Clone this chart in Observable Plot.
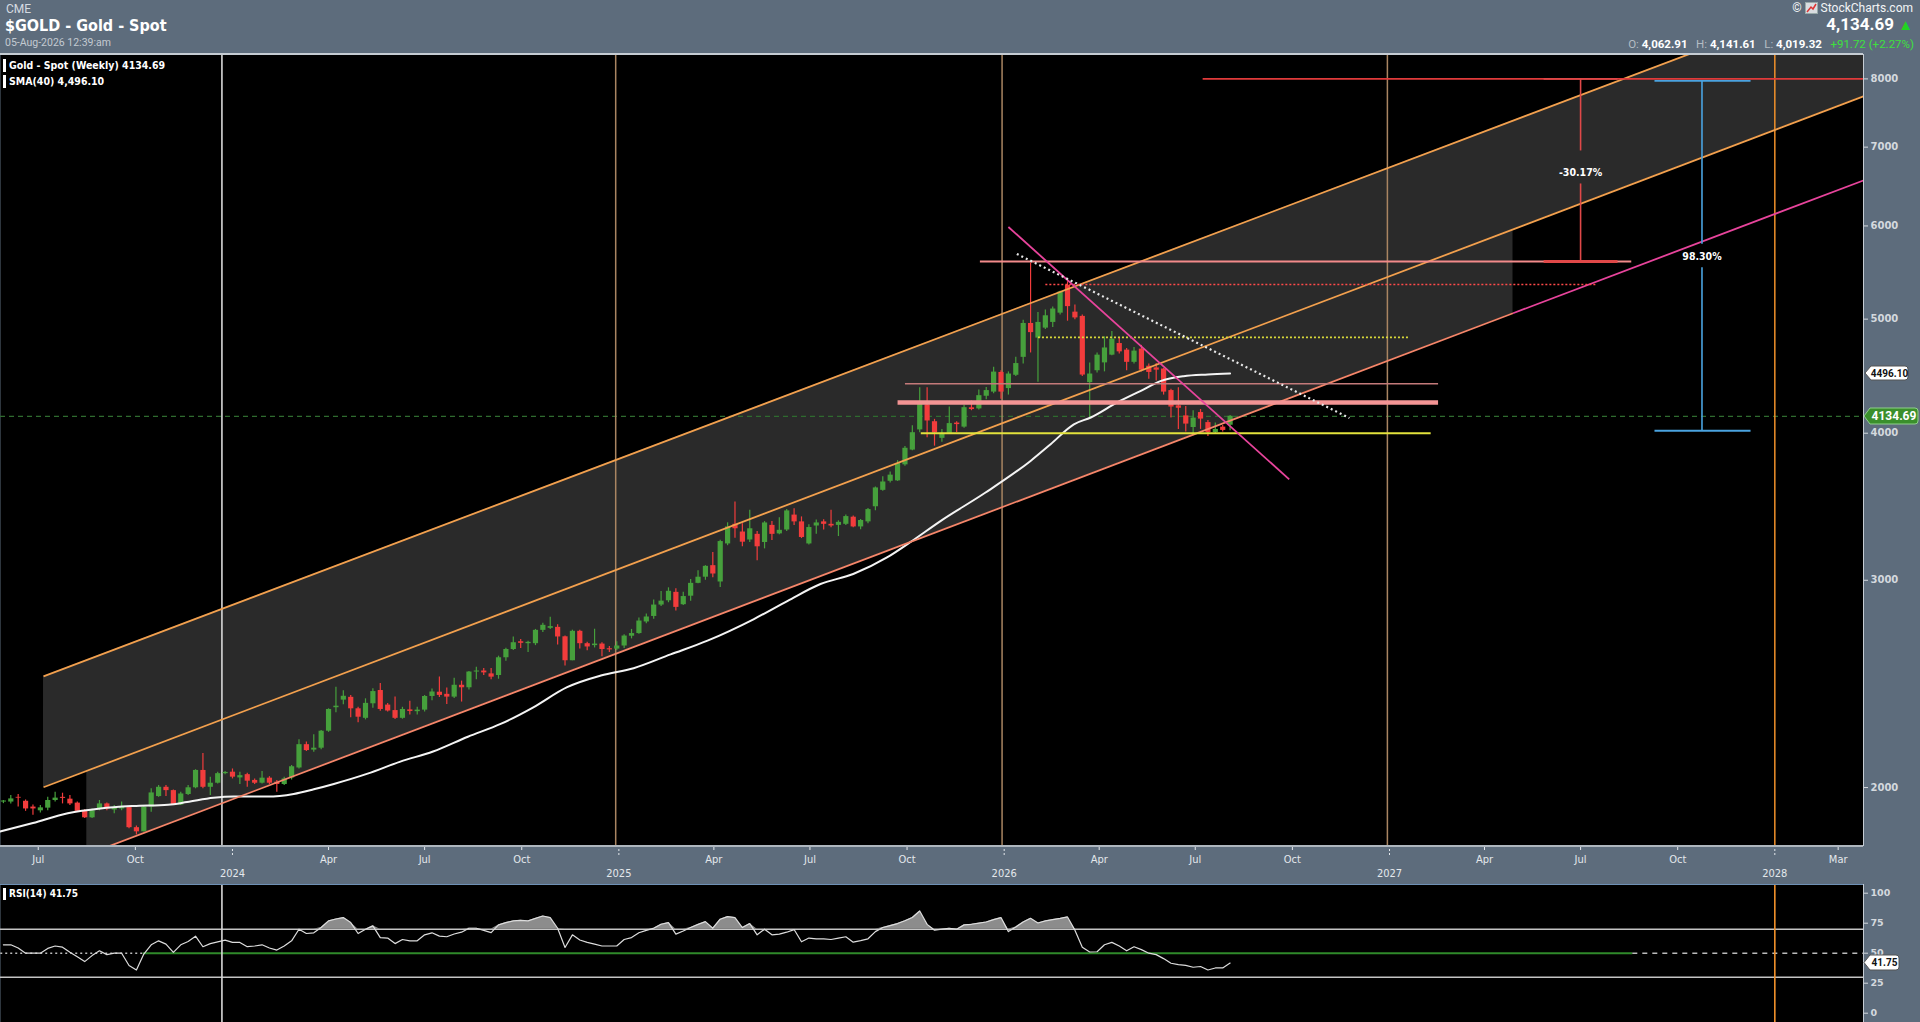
<!DOCTYPE html>
<html>
<head>
<meta charset="utf-8">
<script src="https://cdn.jsdelivr.net/npm/d3@7"></script>
<script src="https://cdn.jsdelivr.net/npm/@observablehq/plot@0.6"></script>
<style>
  html, body { margin:0; padding:0; background:#5d6c7c; }
  #root { position:relative; width:1920px; height:1022px; overflow:hidden; background:#5d6c7c; font-family: Roboto, "Noto Sans", sans-serif; }
  .abs { position:absolute; white-space:nowrap; line-height:1; }
  .narrow { font-family: "Liberation Sans Narrow", "DejaVu Sans Condensed", Roboto, sans-serif; }
</style>
</head>
<body>
<div id="root"></div>
<script>
// ================= DATA =================
const firstWeek = "2023-05-29"; // first weekly bar (week starting Monday)
const opens = [1944,1944,1962,1947,1925,1911,1921,1950,1962,1955,
 1940,1909,1885,1918,1937,1914,1918,1923,1849,1834,
 1925,1965,2001,1988,1933,1973,1999,2068,2001,2017,
 2055,2061,2038,2051,2028,2017,2037,2021,2012,2038,
 2078,2175,2152,2160,2233,2338,2373,2386,2333,2290,
 2356,2418,2350,2325,2290,2328,2320,2327,2390,2410,
 2400,2387,2443,2431,2507,2512,2498,2490,2578,2620,
 2660,2650,2650,2720,2731,2736,2686,2563,2715,2650,
 2640,2648,2624,2622,2638,2689,2703,2765,2795,2858,
 2882,2930,2860,2908,2982,3018,3087,2990,3221,3347,
 3297,3246,3282,3230,3340,3285,3310,3408,3363,3221,
 3336,3363,3347,3340,3347,3394,3330,3363,3464,3577,
 3641,3644,3760,3870,4026,4228,4091,3960,3999,4080,
 4048,4204,4195,4300,4335,4505,4365,4480,4640,4958,
 4818,4913,4968,5059,5342,5069,5027,4416,4520,4590,
 4660,4767,4706,4595,4715,4560,4545,4535,4348,4220,
 4138,4045,4165,4084,4005,4048,4062.91];
const highs = [1950,1969,1973,1952,1933,1931,1962,1982,1978,1969,
 1944,1915,1918,1950,1940,1931,1944,1925,1855,1931,
 1995,2008,2008,1990,1982,2008,2071,2138,2041,2061,
 2064,2074,2061,2057,2034,2064,2043,2028,2041,2088,
 2196,2186,2218,2236,2333,2434,2417,2395,2340,2379,
 2426,2451,2357,2387,2340,2368,2340,2395,2425,2483,
 2430,2477,2463,2510,2531,2525,2525,2586,2626,2685,
 2672,2663,2725,2758,2790,2750,2690,2721,2721,2657,
 2726,2655,2635,2660,2697,2725,2786,2808,2886,2935,
 2956,2950,2930,3004,3057,3087,3167,3245,3357,3497,
 3350,3441,3300,3365,3365,3390,3445,3451,3396,3345,
 3375,3377,3441,3370,3409,3402,3378,3453,3600,3674,
 3707,3791,3897,4059,4373,4373,4110,4030,4210,4090,
 4225,4260,4353,4375,4550,4520,4510,4640,4990,5582,
 5065,5090,5120,5280,5380,5140,5040,4590,4680,4830,
 4880,4820,4720,4730,4750,4580,4585,4540,4360,4373,
 4215,4180,4190,4100,4080,4060,4141.61];
const lows = [1938,1937,1925,1909,1894,1903,1911,1944,1937,1931,
 1906,1882,1882,1911,1911,1900,1911,1845,1823,1833,
 1906,1962,1965,1931,1931,1969,1995,1995,1969,2014,
 2051,2034,2012,2001,2012,2014,2012,1982,2008,2030,
 2074,2146,2143,2153,2228,2315,2352,2292,2270,2283,
 2335,2322,2318,2285,2286,2305,2305,2318,2370,2385,
 2353,2380,2364,2421,2470,2490,2470,2472,2560,2615,
 2625,2605,2640,2708,2725,2643,2537,2563,2622,2613,
 2628,2583,2605,2615,2625,2675,2700,2755,2780,2850,
 2871,2825,2855,2880,2980,3000,3015,2958,3210,3257,
 3203,3230,3117,3190,3242,3280,3300,3340,3255,3215,
 3283,3310,3325,3268,3340,3325,3312,3350,3437,3570,
 3628,3640,3750,3865,4004,3965,3900,3930,3995,4005,
 4040,4180,4185,4270,4320,4275,4310,4470,4580,4680,
 4420,4900,4920,5040,4980,4995,4470,4113,4500,4510,
 4655,4670,4520,4580,4510,4445,4430,4310,4120,4030,
 4010,3980,4030,3975,3990,4010,4019.32];
const closes = [1948,1956,1959,1918,1918,1922,1950,1959,1958,1937,
 1909,1885,1911,1937,1918,1923,1927,1849,1834,1925,
 1979,2001,1988,1934,1975,1999,2068,2001,2017,2055,
 2060,2041,2047,2025,2017,2037,2017,2012,2034,2083,
 2175,2150,2160,2233,2330,2345,2391,2333,2295,2358,
 2413,2330,2323,2290,2330,2321,2327,2390,2411,2395,
 2387,2443,2431,2507,2512,2503,2482,2578,2620,2655,
 2652,2657,2720,2747,2740,2685,2563,2715,2650,2633,
 2648,2620,2618,2638,2690,2703,2770,2792,2858,2880,
 2936,2845,2906,2982,3018,3083,3037,3236,3330,3318,
 3232,3318,3203,3356,3282,3308,3436,3363,3262,3326,
 3356,3347,3336,3360,3398,3330,3372,3445,3594,3636,
 3685,3770,3884,4004,4233,4097,4002,3991,4076,4068,
 4205,4190,4305,4348,4508,4335,4491,4584,4958,4870,
 4968,5033,5100,5273,5124,5012,4482,4491,4660,4726,
 4808,4690,4595,4697,4525,4505,4525,4335,4210,4200,
 4072,4120,4112,4004,4030,4022,4134.69];
const rsi14 = [57,57,54.3,50,50,50,54,56,55,50.7,
 47,43,48,52,48.8,50,50,39.7,36,49.3,
 57,60.3,57.6,50.7,57,59.8,64.2,55.4,58,59.5,
 60.9,59,59,55.4,56,57,54.3,52.6,56,60.3,
 70,66.4,67,71.4,76.9,78.5,79.7,75.5,66.4,70,
 72.8,63,62.6,58,61.4,60.3,60.3,65.3,67,64.2,
 63.7,66,67.5,70.8,70.8,69,67.2,73.6,75.5,76.9,
 77.4,76.9,79,81,79.7,70.8,54.8,65.3,61,59,
 57.6,56,56,56,61.4,63,67,69,70.8,74.1,
 75.5,65.9,68.5,71.4,74,76.3,70.8,78.3,80.5,79.7,
 71.4,74.7,65.3,70,65.3,65.9,67.5,69.7,59.5,62.6,
 62,62,61.4,62.5,63.7,59.2,60.5,62,68,71.4,
 73,74.7,77,79.7,85.2,74,69.2,70,70.8,70,
 73.6,74.1,75,76,78,79.7,68,71.9,76,79.1,
 75.2,76.9,78,79,80.2,69.2,55,51,51.2,57,
 59,56,52,55.4,53,50,48.8,45.5,41.6,40.5,
 39.9,38.3,38.9,36,37.7,37.7,41.75];
const smaDates = ["2023-05-26","2023-06-26","2023-07-29","2023-08-29","2023-09-29","2023-11-01","2023-11-19","2023-12-14","2024-01-02","2024-02-03",
 "2024-02-28","2024-03-18","2024-04-06","2024-05-08","2024-06-08","2024-07-09","2024-08-11","2024-09-11","2024-10-12","2024-11-13",
 "2024-12-15","2025-01-15","2025-02-19","2025-03-26","2025-05-09","2025-06-10","2025-07-11","2025-08-11","2025-09-12","2025-10-04",
 "2025-11-02","2025-12-14","2026-01-26","2026-02-14","2026-03-08","2026-03-24","2026-04-18","2026-05-10","2026-05-29","2026-06-20",
 "2026-07-13","2026-08-03"];
const smaValues = [1835,1866,1902,1920,1929,1934,1944,1960,1965,1965,
 1975,1993,2014,2055,2104,2146,2209,2265,2340,2434,
 2490,2526,2595,2666,2781,2882,2978,3037,3137,3232,
 3370,3560,3789,3915,4070,4125,4248,4344,4429,4472,
 4487,4496.10];

const lastClose = 4134.69, lastSma = 4496.10, lastRsi = 41.75;
const yTicks = [2000,3000,4000,5000,6000,7000,8000];
const rsiTicks = [0,25,50,75,100];
const rsiLevels = [70,30];
const monthTickDates = ["2023-07-01","2023-10-01","2024-04-01","2024-07-01","2024-10-01","2025-04-01","2025-07-01","2025-10-01",
 "2026-04-01","2026-07-01","2026-10-01","2027-04-01","2027-07-01","2027-10-01","2028-03-01"];
const monthTickLabels = ["Jul","Oct","Apr","Jul","Oct","Apr","Jul","Oct","Apr","Jul","Oct","Apr","Jul","Oct","Mar"];
const yearTickDates = ["2024-01-01","2025-01-01","2026-01-01","2027-01-01","2028-01-01"];
const yearTickLabels = ["2024","2025","2026","2027","2028"];

// chart annotations (date / price pairs)
const channelLines = [
  {id:"top",    d1:"2023-07-06", p1:2486, d2:"2028-03-25", p2:9553},
  {id:"mid",    d1:"2023-07-06", p1:2001, d2:"2028-03-25", p2:7732},
  {id:"low",    d1:"2023-08-16", p1:1754, d2:"2027-04-28", p2:5058},
  {id:"lowExt", d1:"2027-04-28", p1:5058, d2:"2028-03-25", p2:6559}
];
const channelFills = [
  {id:"upper", d1:"2023-07-06", lo1:2001, hi1:2486, d2:"2028-03-25", lo2:7732, hi2:9553},
  {id:"lower", d1:"2023-08-16", lo1:1754, hi1:2067, d2:"2027-04-28", lo2:5058, hi2:5962}
];
const levelLines = [
  {id:"red8000",  d1:"2026-07-08", d2:"2028-03-25", p:8000},
  {id:"pink5600", d1:"2025-12-09", d2:"2027-08-18", p:5598},
  {id:"redDot",   d1:"2026-02-09", d2:"2027-07-15", p:5351},
  {id:"yelDot",   d1:"2026-02-02", d2:"2027-01-20", p:4824},
  {id:"rose",     d1:"2025-09-29", d2:"2027-02-16", p:4406},
  {id:"pinkBold", d1:"2025-09-22", d2:"2027-02-16", p:4248},
  {id:"yellow",   d1:"2025-10-14", d2:"2027-02-09", p:4000}
];
const trendLines = [
  {id:"pinkDown",  d1:"2026-01-05", p1:5988, d2:"2026-09-28", p2:3655},
  {id:"whiteDown", d1:"2026-01-13", p1:5680, d2:"2026-11-24", p2:4121}
];
const measures = [
  {id:"red",  date:"2027-07-01", top:8000, bottom:5598, gapTop:6955, gapBottom:6520, capFrom:"2027-05-27", capTo:"2027-08-05", label:"-30.17%", labelAt:6666},
  {id:"blue", date:"2027-10-24", top:7970, bottom:4019.32, gapTop:5795, gapBottom:5535, capFrom:"2027-09-09", capTo:"2027-12-09", label:"98.30%", labelAt:5652}
];
const markerLines = [
  {id:"white",  date:"2023-12-22", rsi:true},
  {id:"tan",    date:"2024-12-29", rsi:false},
  {id:"tan",    date:"2025-12-30", rsi:false},
  {id:"tan",    date:"2026-12-30", rsi:false},
  {id:"orange", date:"2028-01-01", rsi:true}
];
const rsiMidSegments = [
  {id:"dotted", d1:"2023-05-26", d2:"2023-10-08"},
  {id:"green",  d1:"2023-10-08", d2:"2027-08-19"},
  {id:"dashed", d1:"2027-08-19", d2:"2028-03-25"}
];

// ================= STYLES =================
const GREEN = "#46a03c", RED = "#f23c3c";
const lineStyle = {
  top:{stroke:"#f2a04e", strokeWidth:1.8}, mid:{stroke:"#f2a04e", strokeWidth:1.8},
  low:{stroke:"#f5866a", strokeWidth:1.8}, lowExt:{stroke:"#e8449c", strokeWidth:1.8},
  red8000:{stroke:"#e03a3a", strokeWidth:1.6}, pink5600:{stroke:"#f28a8a", strokeWidth:2},
  redDot:{stroke:"#ff4a4a", strokeWidth:1.6, strokeDasharray:"2,2"},
  yelDot:{stroke:"#d8d83a", strokeWidth:1.8, strokeDasharray:"2,2"},
  rose:{stroke:"#c47a7a", strokeWidth:1.6}, pinkBold:{stroke:"#f39494", strokeWidth:4.5},
  yellow:{stroke:"#e2e23c", strokeWidth:2},
  pinkDown:{stroke:"#e8449c", strokeWidth:1.8},
  whiteDown:{stroke:"#e8e8e8", strokeWidth:2.2, strokeDasharray:"2,3"}
};
const fillStyle = {upper:"#2a2a2a", lower:"#2a2a2a"};
const measureColor = {red:"#e04848", blue:"#4aa3e0"};
const markerColor = {white:"#d8d8d8", tan:"#a98562", orange:"#f0902a"};
const rsiMidStyle = {dotted:{stroke:"#bbbbbb", strokeDasharray:"2,3", strokeWidth:1.5},
  green:{stroke:"#2f8a2a", strokeWidth:2}, dashed:{stroke:"#bbbbbb", strokeDasharray:"5,5", strokeWidth:1.5}};
const NARROW = "'Liberation Sans Narrow','DejaVu Sans Condensed',Roboto,sans-serif";

// ================= BUILD =================
const D = s => new Date(s);
const weekMs = 7 * 86400000;
const candles = closes.map((c, i) => ({date: new Date(Date.parse(firstWeek) + i * weekMs),
  open: opens[i], high: highs[i], low: lows[i], close: c}));
const upC = candles.filter(d => d.close >= d.open);
const dnC = candles.filter(d => d.close < d.open);
const sma = smaDates.map((d, i) => ({date: D(d), value: smaValues[i]}));
const rsiT = rsi14.map((v, i) => ({date: candles[i].date, rsi: v}));

const xDomain = [new Date("2023-05-26T06:00:00Z"), new Date("2028-03-25T00:00:00Z")];

const marks = [Plot.frame({fill:"black", stroke:"none"})];
for (const f of channelFills) {
  marks.push(Plot.areaY([{x:D(f.d1), y1:f.lo1, y2:f.hi1}, {x:D(f.d2), y1:f.lo2, y2:f.hi2}],
    {x:"x", y1:"y1", y2:"y2", fill:fillStyle[f.id], clip:true}));
}
marks.push(Plot.ruleY([lastClose], {stroke:"#2f6b2f", strokeWidth:1.2, strokeDasharray:"5,4"}));
for (const m of markerLines) {
  marks.push(Plot.ruleX([D(m.date)], {stroke:markerColor[m.id], strokeWidth: m.id === "white" ? 1.6 : 1.5}));
}
marks.push(
  Plot.ruleX(upC, {x:"date", y1:"low", y2:"high", stroke:GREEN, strokeWidth:1.2}),
  Plot.ruleX(dnC, {x:"date", y1:"low", y2:"high", stroke:RED, strokeWidth:1.2}),
  Plot.ruleX(upC, {x:"date", y1:"open", y2:"close", stroke:GREEN, strokeWidth:5.2}),
  Plot.ruleX(dnC, {x:"date", y1:"open", y2:"close", stroke:RED, strokeWidth:5.2}),
  Plot.line(sma, {x:"date", y:"value", stroke:"#f4f4f4", strokeWidth:2, curve:"monotone-x"})
);
for (const l of channelLines) {
  marks.push(Plot.link([l], {x1:d=>D(d.d1), y1:"p1", x2:d=>D(d.d2), y2:"p2", ...lineStyle[l.id], clip:true}));
}
for (const l of levelLines) {
  marks.push(Plot.link([l], {x1:d=>D(d.d1), y1:"p", x2:d=>D(d.d2), y2:"p", ...lineStyle[l.id], clip:true}));
}
for (const l of trendLines) {
  marks.push(Plot.link([l], {x1:d=>D(d.d1), y1:"p1", x2:d=>D(d.d2), y2:"p2", ...lineStyle[l.id], clip:true}));
}
for (const m of measures) {
  const c = measureColor[m.id];
  marks.push(
    Plot.link([m], {x1:d=>D(d.date), x2:d=>D(d.date), y1:"top", y2:"gapTop", stroke:c, strokeWidth:1.6}),
    Plot.link([m], {x1:d=>D(d.date), x2:d=>D(d.date), y1:"gapBottom", y2:"bottom", stroke:c, strokeWidth:1.6}),
    Plot.link([m], {x1:d=>D(d.capFrom), x2:d=>D(d.capTo), y1:"top", y2:"top", stroke:c, strokeWidth:1.8}),
    Plot.link([m], {x1:d=>D(d.capFrom), x2:d=>D(d.capTo), y1:"bottom", y2:"bottom", stroke:c, strokeWidth: m.id==="red"?3:1.8}),
    Plot.text([m], {x:d=>D(d.date), y:"labelAt", text:"label", fill:"white", fontWeight:"bold", fontSize:10.5, fontFamily:NARROW})
  );
}
marks.push(
  Plot.axisY(yTicks, {anchor:"right", tickSize:4, tickPadding:3, fontSize:10, fontWeight:"bold",
    color:"#d4d9de", tickFormat:d=>String(d), fontFamily:"'DejaVu Sans',Roboto,sans-serif"}),
  Plot.axisX(monthTickDates.map(D), {anchor:"bottom", tickSize:5, tickPadding:5, fontSize:11, color:"#e4e8ec",
    tickFormat:(d)=>monthTickLabels[monthTickDates.indexOf(d.toISOString().slice(0,10))], fontFamily:NARROW}),
  Plot.axisX(yearTickDates.map(D), {anchor:"bottom", tickSize:11, tickPadding:13, fontSize:11, color:"#e4e8ec",
    strokeDasharray:"2,2", tickFormat:(d)=>yearTickLabels[yearTickDates.indexOf(d.toISOString().slice(0,10))], fontFamily:NARROW})
);

const main = Plot.plot({
  width:1920, height:830, marginTop:0, marginBottom:39, marginLeft:0, marginRight:57,
  x:{type:"utc", domain:xDomain, label:null},
  y:{type:"log", domain:[1785.6, 8391], label:null},
  style:{background:"transparent", fontFamily:"Roboto,sans-serif", color:"#d4d9de", overflow:"visible"},
  marks
});

const rsiMarks = [Plot.frame({fill:"black", stroke:"none"})];
rsiMarks.push(Plot.ruleY(rsiLevels, {stroke:"#c4c4c4", strokeWidth:1.5}));
for (const s of rsiMidSegments) {
  rsiMarks.push(Plot.link([s], {x1:d=>D(d.d1), x2:d=>D(d.d2), y1:50, y2:50, ...rsiMidStyle[s.id]}));
}
for (const m of markerLines.filter(m => m.rsi)) {
  rsiMarks.push(Plot.ruleX([D(m.date)], {stroke:markerColor[m.id], strokeWidth:1.6}));
}
rsiMarks.push(
  Plot.areaY(rsiT, {x:"date", y1:70, y2:d=>Math.max(70, d.rsi), fill:"#8c8c8c"}),
  Plot.line(rsiT, {x:"date", y:"rsi", stroke:"#dcdcdc", strokeWidth:1.2}),
  Plot.axisY(rsiTicks, {anchor:"right", tickSize:4, tickPadding:3, fontSize:9.5, fontWeight:"bold",
    color:"#d4d9de", fontFamily:"'DejaVu Sans',Roboto,sans-serif"})
);
const rsiPlot = Plot.plot({
  width:1920, height:138, marginTop:0, marginBottom:0, marginLeft:0, marginRight:57,
  x:{type:"utc", domain:xDomain, axis:null, label:null},
  y:{domain:[-7.75, 107.25], label:null},
  style:{background:"transparent", fontFamily:"Roboto,sans-serif", color:"#d4d9de", overflow:"visible"},
  marks:rsiMarks
});

// ================= PAGE =================
const root = document.getElementById("root");
function put(el, style) { Object.assign(el.style, style); root.appendChild(el); return el; }
function div(html, style, cls) { const d = document.createElement("div"); d.className = "abs" + (cls ? " " + cls : ""); d.innerHTML = html; return put(d, style); }

put(main, {position:"absolute", left:"0px", top:"54px"});
put(rsiPlot, {position:"absolute", left:"0px", top:"884px"});

// borders
div("", {left:"0px", top:"53px", width:"1863px", height:"1.5px", background:"#c5ccd3"});
div("", {left:"0px", top:"845px", width:"1863px", height:"1.5px", background:"#aeb6be"});
div("", {left:"1863px", top:"54px", width:"1px", height:"792px", background:"#c5ccd3"});
div("", {left:"0px", top:"883.5px", width:"1863px", height:"1.5px", background:"#6f91b5"});
div("", {left:"1863px", top:"884px", width:"1px", height:"138px", background:"#c5ccd3"});

// header left
div("CME", {left:"6px", top:"3px", fontSize:"12px", color:"#d5dbe1"});
div("$GOLD - Gold - Spot", {left:"5px", top:"18px", fontSize:"16px", fontWeight:"bold", color:"#ffffff"}, "narrow");
div("05-Aug-2026 12:39:am", {left:"5px", top:"38px", fontSize:"10.5px", color:"#c3cad1"});

// header right
div('© <svg width="13" height="12" style="vertical-align:-2px"><rect x="0.5" y="0.5" width="12" height="11" fill="#d9dde1" stroke="#9aa" /><path d="M2 10 L6 5 L8 7 L11 2" stroke="#d33" stroke-width="1.5" fill="none"/></svg> StockCharts.com',
  {right:"7px", top:"2px", fontSize:"12px", color:"#f2f4f6"});
div('4,134.69 <span style="color:#22d422;font-size:15px">&#9650;</span>', {right:"7px", top:"16px", fontSize:"17px", fontWeight:"bold", color:"#ffffff"});
div('<span style="color:#b4bcc4">O:</span> <b>4,062.91</b>&nbsp;&nbsp;&nbsp;<span style="color:#b4bcc4">H:</span> <b>4,141.61</b>&nbsp;&nbsp;&nbsp;<span style="color:#b4bcc4">L:</span> <b>4,019.32</b>&nbsp;&nbsp;&nbsp;<span style="color:#3ee03e">+91.72 (+2.27%)</span>',
  {right:"6px", top:"39px", fontSize:"11.5px", color:"#ffffff"});

// legends in panels
div("", {left:"3px", top:"59px", width:"3px", height:"13px", background:"#ffffff"});
div("Gold - Spot (Weekly) 4134.69", {left:"9px", top:"60px", fontSize:"10.5px", fontWeight:"bold", color:"#ffffff"}, "narrow");
div("", {left:"3px", top:"75px", width:"3px", height:"13px", background:"#ffffff"});
div("SMA(40) 4,496.10", {left:"9px", top:"76px", fontSize:"10.5px", fontWeight:"bold", color:"#ffffff"}, "narrow");
div("", {left:"3px", top:"888px", width:"3px", height:"12px", background:"#ffffff"});
div("RSI(14) 41.75", {left:"9px", top:"889px", fontSize:"10px", fontWeight:"bold", color:"#ffffff"}, "narrow");

// value tags positioned through the plot scales
function tag(text, left, yCenter, w, h, fill, stroke, color, fontSize) {
  const ns = "http://www.w3.org/2000/svg";
  const s = document.createElementNS(ns, "svg");
  s.setAttribute("width", w + 2); s.setAttribute("height", h + 2);
  const p = document.createElementNS(ns, "path");
  const r = 3, a = 6;
  p.setAttribute("d", `M1,${1+h/2} L${1+a},1 H${1+w-r} Q${1+w},1 ${1+w},${1+r} V${1+h-r} Q${1+w},${1+h} ${1+w-r},${1+h} H${1+a} Z`);
  p.setAttribute("fill", fill); p.setAttribute("stroke", stroke); p.setAttribute("stroke-width", "1");
  const t = document.createElementNS(ns, "text");
  t.setAttribute("x", 1 + a + (w - a) / 2); t.setAttribute("y", 1 + h / 2);
  t.setAttribute("text-anchor", "middle"); t.setAttribute("dominant-baseline", "central");
  t.setAttribute("fill", color); t.setAttribute("font-size", fontSize); t.setAttribute("font-weight", "bold");
  t.setAttribute("font-family", "Roboto, 'DejaVu Sans', sans-serif");
  t.textContent = text;
  s.appendChild(p); s.appendChild(t);
  return put(s, {position:"absolute", left:(left - 1) + "px", top:(yCenter - h / 2 - 1) + "px", overflow:"visible"});
}
const ys = main.scale("y"), rs = rsiPlot.scale("y");
tag(lastSma.toFixed(2), 1865, 54 + ys.apply(lastSma), 43, 14, "#ffffff", "#555", "#111", 10);
tag(lastClose.toFixed(2), 1864, 54 + ys.apply(lastClose), 54, 16, "#3a8f2c", "#8fd08a", "#ffffff", 12);
tag(lastRsi.toFixed(2), 1864, 884 + rs.apply(lastRsi), 35, 15, "#ffffff", "#555", "#111", 10);
</script>
</body>
</html>
